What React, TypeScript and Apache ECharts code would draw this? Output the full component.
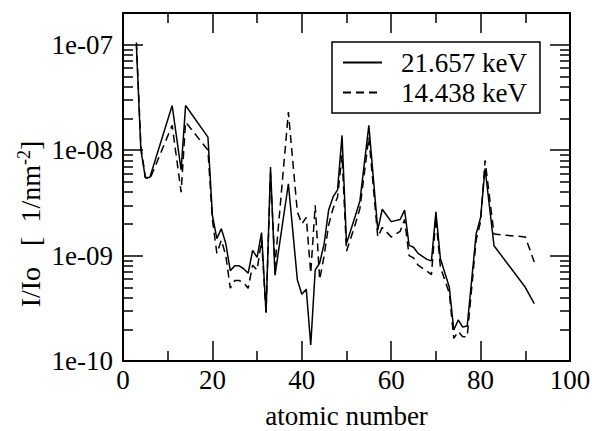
import React, { useEffect, useRef } from 'react';
import * as echarts from 'echarts';

const atomicNumbers = [3, 4, 5, 6, 11, 13, 14, 19, 20, 21, 22, 23, 24, 25, 26, 27, 28, 29, 30, 31, 32, 33, 34, 37, 39, 40, 41, 42, 43, 44, 45, 46, 47, 48, 49, 50, 52, 53, 55, 57, 58, 60, 62, 63, 64, 65, 66, 68, 69, 70, 71, 73, 74, 75, 76, 77, 79, 80, 81, 83, 90, 92];

const intensity21657 = [
  9.8e-8, 1.0e-8, 5.5e-9, 5.5e-9, 2.65e-8, 6.5e-9, 2.65e-8, 1.33e-8, 2.4e-9, 1.45e-9,
  1.8e-9, 1.3e-9, 7.2e-10, 8.0e-10, 8.0e-10, 7.5e-10, 6.8e-10, 1.12e-9, 9.6e-10, 1.65e-9,
  2.87e-10, 6.9e-9, 6.5e-10, 4.8e-9, 5.9e-10, 4.3e-10, 4.8e-10, 1.42e-10, 7.3e-10, 8.5e-10,
  1.3e-9, 2.7e-9, 3.6e-9, 4.2e-9, 1.38e-8, 1.3e-9, 2.4e-9, 3.3e-9, 1.72e-8, 1.75e-9,
  2.75e-9, 2.1e-9, 2.2e-9, 2.7e-9, 1.25e-9, 1.2e-9, 1.05e-9, 9.2e-10, 8.9e-10, 2.6e-9,
  9.4e-10, 5.0e-10, 1.97e-10, 2.45e-10, 2.1e-10, 2.15e-10, 1.6e-9, 2.3e-9, 6.7e-9, 1.24e-9,
  5.0e-10, 3.5e-10,
];

const intensity14438 = [
  1.05e-7, 1.1e-8, 5.5e-9, 5.3e-9, 1.72e-8, 4.0e-9, 1.85e-8, 1.0e-8, 2.2e-9, 1.05e-9,
  1.4e-9, 1.0e-9, 4.9e-10, 5.8e-10, 5.8e-10, 5.5e-10, 4.9e-10, 8.1e-10, 7.3e-10, 1.4e-9,
  2.9e-10, 6.0e-9, 8.0e-10, 2.3e-8, 2.6e-9, 2.0e-9, 2.3e-9, 6.8e-10, 3.0e-9, 5.9e-10,
  1.0e-9, 1.95e-9, 2.8e-9, 3.6e-9, 9.0e-9, 1.1e-9, 2.0e-9, 2.8e-9, 1.33e-8, 1.5e-9,
  1.85e-9, 1.5e-9, 1.7e-9, 2.2e-9, 1.0e-9, 9.5e-10, 8.1e-10, 7.1e-10, 6.6e-10, 2.3e-9,
  7.8e-10, 4.4e-10, 1.64e-10, 1.9e-10, 1.7e-10, 1.7e-10, 1.4e-9, 2.1e-9, 8.0e-9, 1.6e-9,
  1.5e-9, 8.7e-10,
];

const seriesNames = ['21.657 keV', '14.438 keV'];
const yMajorTicks = [1e-10, 1e-9, 1e-8, 1e-7];
const yTickLabels = ['1e-10', '1e-09', '1e-08', '1e-07'];
const minorMultipliers = [2, 3, 4, 5, 6, 7, 8, 9];
const yMinorTicks = yMajorTicks.flatMap((d) => minorMultipliers.map((m) => m * d)).filter((v) => v <= 2e-7);

const FONT = "'Liberation Serif', 'Times New Roman', serif";
const FS = 27;

export default function App() {
  const ref = useRef<HTMLDivElement>(null);
  useEffect(() => {
    if (!ref.current) return;
    const chart = echarts.init(ref.current, undefined, { renderer: 'svg' });
    const black = '#000';
    const tickLine = { color: black, width: 1.5 };
    const xBase = (pos: 'bottom' | 'top', showLabel: boolean) => ({
      type: 'value',
      position: pos,
      min: 0,
      max: 100,
      interval: 20,
      axisLine: { show: true, onZero: false, lineStyle: { color: black, width: 2 } },
      axisTick: { show: true, inside: true, length: 20, lineStyle: tickLine },
      minorTick: { show: true, splitNumber: 2, length: 10, lineStyle: tickLine },
      splitLine: { show: false },
      minorSplitLine: { show: false },
      axisLabel: {
        show: showLabel,
        margin: 5,
        fontSize: FS,
        fontFamily: FONT,
        color: black,
      },
      ...(showLabel
        ? {
            name: 'atomic number',
            nameLocation: 'middle',
            nameGap: 41,
            nameTextStyle: { fontSize: FS, fontFamily: FONT, color: black },
          }
        : {}),
    });
    const yBase = (pos: 'left' | 'right', major: boolean, showLabel: boolean) => ({
      type: 'log',
      position: pos,
      min: 1e-10,
      max: 2e-7,
      axisLine: { show: major, lineStyle: { color: black, width: 2 } },
      axisTick: {
        show: true,
        inside: true,
        length: major ? 20 : 10,
        lineStyle: tickLine,
        customValues: major ? yMajorTicks : yMinorTicks,
      },
      minorTick: { show: false },
      splitLine: { show: false },
      axisLabel: {
        show: showLabel,
        customValues: yMajorTicks,
        margin: 10,
        fontSize: FS,
        fontFamily: FONT,
        color: black,
        formatter: (v: number) => {
          const e = Math.round(Math.log10(v));
          return yTickLabels[e + 10] ?? '';
        },
      },
    });
    chart.setOption({
      animation: false,
      backgroundColor: '#fff',
      textStyle: { fontFamily: FONT, color: black },
      grid: { left: 123, right: 22, top: 13, bottom: 70, containLabel: false, outerBoundsMode: 'none' },
      xAxis: [xBase('bottom', true), xBase('top', false)],
      yAxis: [
        yBase('left', true, true),
        yBase('left', false, false),
        yBase('right', true, false),
        yBase('right', false, false),
      ],
      legend: {
        orient: 'vertical',
        left: 332,
        top: 42,
        padding: [7, 13, 7, 10],
        itemWidth: 39,
        itemHeight: 14,
        itemGap: 3,
        borderColor: black,
        borderWidth: 1.5,
        borderRadius: 0,
        itemStyle: { opacity: 0, borderWidth: 0 },
        textStyle: { fontSize: FS, fontFamily: FONT, color: black, lineHeight: 27, padding: [0, 0, 0, 14] },
        data: seriesNames,
      },
      graphic: [
        {
          type: 'text',
          x: 30,
          y: 224,
          rotation: Math.PI / 2,
          style: {
            text: 'I/Io   [  1/nm{sup|-2}]',
            fontSize: 28,
            fontFamily: FONT,
            fill: black,
            align: 'center',
            verticalAlign: 'middle',
            textAlign: 'center',
            textVerticalAlign: 'middle',
            rich: {
              sup: { fontSize: 18, fontFamily: FONT, fill: black, padding: [0, 0, 13, 0] },
            },
          },
        },
      ],
      series: [
        {
          type: 'line',
          name: seriesNames[0],
          xAxisIndex: 0,
          yAxisIndex: 0,
          symbol: 'none',
          data: atomicNumbers.map((z, i) => [z, intensity21657[i]]),
          lineStyle: { color: black, width: 1.5, type: 'solid' },
          itemStyle: { color: black },
        },
        {
          type: 'line',
          name: seriesNames[1],
          xAxisIndex: 0,
          yAxisIndex: 0,
          symbol: 'none',
          data: atomicNumbers.map((z, i) => [z, intensity14438[i]]),
          lineStyle: { color: black, width: 1.5, type: [8, 5] },
          itemStyle: { color: black },
        },
      ],
    });
    return () => chart.dispose();
  }, []);
  return <div ref={ref} style={{ position: 'fixed', left: 0, top: 0, width: 592, height: 431 }} />;
}
